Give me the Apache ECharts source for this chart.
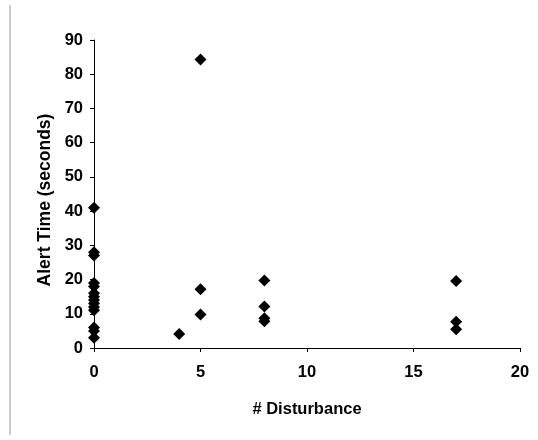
<!DOCTYPE html>
<html>
<head>
<meta charset="utf-8">
<script src="https://cdn.jsdelivr.net/npm/echarts@6/dist/echarts.min.js"></script>
<style>
  html, body { margin: 0; padding: 0; background: #fff; }
  #chart { width: 538px; height: 440px; }
</style>
</head>
<body>
<div id="chart"></div>
<script>
// disturbance counts and alert times (seconds)
const disturbance = [0, 0, 0, 0, 0, 0, 0, 0, 0, 0, 0, 0, 0, 0, 4, 5, 5, 5, 8, 8, 8, 8, 17, 17, 17];
const alertTime   = [41, 28, 27, 19, 18, 16, 15, 14, 13, 12, 11, 6, 5, 3, 4.1, 84.3, 17.2, 9.8, 19.7, 12.1, 8.7, 7.8, 19.6, 7.7, 5.5];

const xTitle = '# Disturbance';
const yTitle = 'Alert Time (seconds)';

const points = disturbance.map((d, i) => [d, alertTime[i]]);

const labelFont = { color: '#000', fontFamily: 'Liberation Sans', fontWeight: 'bold', fontSize: 16.5 };

const chart = echarts.init(document.getElementById('chart'));
chart.setOption({
  animation: false,
  backgroundColor: '#fff',
  grid: { left: 94, right: 18, top: 40, bottom: 92 },
  xAxis: {
    type: 'value', min: 0, max: 20, interval: 5,
    name: xTitle, nameLocation: 'middle', nameGap: 53,
    nameTextStyle: { ...labelFont, fontSize: 16.5 },
    axisLine: { show: true, lineStyle: { color: '#000', width: 1 } },
    axisTick: { show: true, length: 4, lineStyle: { color: '#000' } },
    axisLabel: { ...labelFont, margin: 16 },
    splitLine: { show: false }
  },
  yAxis: {
    type: 'value', min: 0, max: 90, interval: 10,
    name: yTitle, nameLocation: 'middle', nameGap: 40,
    nameTextStyle: { ...labelFont, fontSize: 17.5, padding: [0, 12, 0, 0] },
    axisLine: { show: true, lineStyle: { color: '#000', width: 1 } },
    axisTick: { show: true, length: 4, lineStyle: { color: '#000' } },
    axisLabel: { ...labelFont, margin: 11 },
    splitLine: { show: false }
  },
  graphic: [{
    type: 'line',
    shape: { x1: 10, y1: 5, x2: 10, y2: 435 },
    style: { stroke: '#999', lineWidth: 1 }
  }],
  series: [{
    type: 'scatter',
    data: points,
    symbol: 'diamond',
    symbolSize: 12,
    itemStyle: { color: '#000', opacity: 1 }
  }]
});
</script>
</body>
</html>
